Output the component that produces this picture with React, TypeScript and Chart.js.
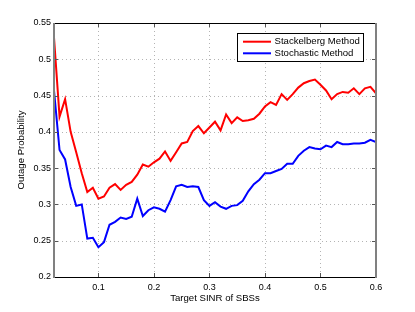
import React, { useEffect, useRef } from 'react';
import { Chart, registerables } from 'chart.js';

Chart.register(...registerables);

const sinr = [
  0.02, 0.03, 0.04, 0.05, 0.06, 0.07, 0.08, 0.09, 0.10, 0.11,
  0.12, 0.13, 0.14, 0.15, 0.16, 0.17, 0.18, 0.19, 0.20, 0.21,
  0.22, 0.23, 0.24, 0.25, 0.26, 0.27, 0.28, 0.29, 0.30, 0.31,
  0.32, 0.33, 0.34, 0.35, 0.36, 0.37, 0.38, 0.39, 0.40, 0.41,
  0.42, 0.43, 0.44, 0.45, 0.46, 0.47, 0.48, 0.49, 0.50, 0.51,
  0.52, 0.53, 0.54, 0.55, 0.56, 0.57, 0.58, 0.59, 0.60,
];

const stackelberg = [
  0.530, 0.421, 0.445, 0.400, 0.372, 0.343, 0.317, 0.323, 0.308, 0.311,
  0.323, 0.328, 0.320, 0.327, 0.331, 0.341, 0.355, 0.352, 0.358, 0.363,
  0.373, 0.360, 0.372, 0.384, 0.386, 0.401, 0.408, 0.398, 0.406, 0.414,
  0.402, 0.424, 0.412, 0.420, 0.415, 0.416, 0.418, 0.425, 0.435, 0.441,
  0.437, 0.452, 0.444, 0.452, 0.461, 0.467, 0.470, 0.472, 0.465, 0.457,
  0.445, 0.452, 0.455, 0.454, 0.460, 0.452, 0.460, 0.462, 0.453,
];

const stochastic = [
  0.457, 0.375, 0.362, 0.324, 0.298, 0.300, 0.253, 0.254, 0.241, 0.248,
  0.272, 0.276, 0.282, 0.280, 0.283, 0.308, 0.284, 0.292, 0.296, 0.294,
  0.290, 0.306, 0.325, 0.327, 0.324, 0.325, 0.324, 0.306, 0.298, 0.303,
  0.297, 0.294, 0.298, 0.299, 0.305, 0.318, 0.328, 0.334, 0.343, 0.343,
  0.346, 0.349, 0.356, 0.356, 0.367, 0.374, 0.379, 0.377, 0.376, 0.381,
  0.379, 0.386, 0.383, 0.383, 0.384, 0.384, 0.385, 0.389, 0.386,
];

const seriesLabels = ['Stackelberg Method', 'Stochastic Method'];
const xTicks = [0.1, 0.2, 0.3, 0.4, 0.5, 0.6];
const xTickLabels = ['0.1', '0.2', '0.3', '0.4', '0.5', '0.6'];
const yTicks = [0.2, 0.25, 0.3, 0.35, 0.4, 0.45, 0.5, 0.55];
const yTickLabels = ['0.2', '0.25', '0.3', '0.35', '0.4', '0.45', '0.5', '0.55'];

const FONT = '"Liberation Sans", Arial, Helvetica, sans-serif';

const framePlugin = {
  id: 'matlabFrame',
  beforeDatasetsDraw(chart: any) {
    const { ctx, chartArea } = chart;
    const xs = chart.scales.x;
    const ys = chart.scales.y;
    ctx.save();
    ctx.strokeStyle = '#b4b4b4';
    ctx.lineWidth = 1;
    ctx.setLineDash([1, 3]);
    xTicks.forEach((v) => {
      const px = Math.round(xs.getPixelForValue(v)) + 0.5;
      ctx.beginPath();
      ctx.moveTo(px, chartArea.top);
      ctx.lineTo(px, chartArea.bottom);
      ctx.stroke();
    });
    yTicks.forEach((v) => {
      const py = Math.round(ys.getPixelForValue(v)) + 0.5;
      ctx.beginPath();
      ctx.moveTo(chartArea.left, py);
      ctx.lineTo(chartArea.right, py);
      ctx.stroke();
    });
    ctx.restore();
  },
  afterDatasetsDraw(chart: any) {
    const { ctx, chartArea } = chart;
    const { left, right, top, bottom } = chartArea;
    const xs = chart.scales.x;
    const ys = chart.scales.y;
    ctx.save();
    ctx.setLineDash([]);
    // tick marks
    ctx.strokeStyle = '#555555';
    ctx.lineWidth = 1;
    const tl = 4;
    xTicks.forEach((v) => {
      const px = Math.round(xs.getPixelForValue(v)) + 0.5;
      ctx.beginPath();
      ctx.moveTo(px, bottom);
      ctx.lineTo(px, bottom - tl);
      ctx.moveTo(px, top);
      ctx.lineTo(px, top + tl);
      ctx.stroke();
    });
    yTicks.forEach((v) => {
      const py = Math.round(ys.getPixelForValue(v)) + 0.5;
      ctx.beginPath();
      ctx.moveTo(left, py);
      ctx.lineTo(left + tl, py);
      ctx.moveTo(right, py);
      ctx.lineTo(right - tl, py);
      ctx.stroke();
    });
    // box
    ctx.strokeStyle = '#000000';
    ctx.lineWidth = 1;
    ctx.beginPath();
    ctx.moveTo(left, Math.round(top) + 0.5);
    ctx.lineTo(right, Math.round(top) + 0.5);
    ctx.moveTo(left, Math.round(bottom) + 0.5);
    ctx.lineTo(right, Math.round(bottom) + 0.5);
    ctx.stroke();
    ctx.strokeStyle = '#808080';
    ctx.lineWidth = 2;
    ctx.beginPath();
    ctx.moveTo(Math.round(left), top);
    ctx.lineTo(Math.round(left), bottom + 1);
    ctx.moveTo(Math.round(right), top);
    ctx.lineTo(Math.round(right), bottom + 1);
    ctx.stroke();

    // legend
    const bx = 237.5, by = 33.5, bw = 126, bh = 28;
    ctx.fillStyle = '#ffffff';
    ctx.fillRect(bx, by, bw, bh);
    ctx.strokeStyle = '#000000';
    ctx.lineWidth = 1;
    ctx.strokeRect(bx, by, bw, bh);
    const rows = [41.7, 53.3];
    chart.data.datasets.forEach((ds: any, i: number) => {
      const y = rows[i];
      ctx.strokeStyle = ds.borderColor;
      ctx.lineWidth = 2;
      ctx.beginPath();
      ctx.moveTo(243, y);
      ctx.lineTo(271, y);
      ctx.stroke();
      ctx.fillStyle = '#000000';
      ctx.font = `9.6px ${FONT}`;
      ctx.textAlign = 'left';
      ctx.textBaseline = 'middle';
      ctx.fillText(ds.label, 274.5, y);
    });
    ctx.restore();
  },
};

export default function App() {
  const ref = useRef<HTMLCanvasElement | null>(null);

  useEffect(() => {
    if (!ref.current) return;
    const chart = new Chart(ref.current, {
      type: 'line',
      data: {
        datasets: [
          {
            label: seriesLabels[0],
            data: sinr.map((x, i) => ({ x, y: stackelberg[i] })),
            borderColor: '#ff0000',
            borderWidth: 2,
            pointRadius: 0,
            fill: false,
            tension: 0,
          },
          {
            label: seriesLabels[1],
            data: sinr.map((x, i) => ({ x, y: stochastic[i] })),
            borderColor: '#0000ff',
            borderWidth: 2,
            pointRadius: 0,
            fill: false,
            tension: 0,
          },
        ],
      },
      options: {
        responsive: false,
        animation: false,
        devicePixelRatio: 1,
        layout: { padding: { left: 11, top: 23, right: 39, bottom: 0 } },
        plugins: {
          legend: { display: false },
          tooltip: { enabled: false },
        },
        scales: {
          x: {
            type: 'linear',
            min: 0.02,
            max: 0.6,
            afterBuildTicks: (s: any) => {
              s.ticks = xTicks.map((v) => ({ value: v }));
            },
            afterFit: (s: any) => {
              s.height = 35;
            },
            ticks: {
              autoSkip: false,
              maxRotation: 0,
              padding: 5,
              color: '#000000',
              font: { family: FONT, size: 9 },
              callback: (_v: any, i: number) => xTickLabels[i],
            },
            grid: { display: false, drawTicks: false },
            border: { display: false },
            title: {
              display: true,
              text: 'Target SINR of SBSs',
              color: '#000000',
              font: { family: FONT, size: 9.6 },
              padding: { top: 0, bottom: 8 },
            },
          },
          y: {
            type: 'linear',
            min: 0.2,
            max: 0.55,
            afterBuildTicks: (s: any) => {
              s.ticks = yTicks.map((v) => ({ value: v }));
            },
            afterFit: (s: any) => {
              s.width = 43;
            },
            ticks: {
              autoSkip: false,
              padding: 3,
              color: '#000000',
              font: { family: FONT, size: 9 },
              callback: (_v: any, i: number) => yTickLabels[i],
            },
            grid: { display: false, drawTicks: false },
            border: { display: false },
            title: {
              display: true,
              text: 'Outage Probability',
              color: '#000000',
              font: { family: FONT, size: 9.6 },
              padding: { top: 5, bottom: 0 },
            },
          },
        },
      },
      plugins: [framePlugin],
    } as any);
    return () => chart.destroy();
  }, []);

  return (
    <div style={{ position: 'absolute', left: 0, top: 0, width: 415, height: 312, background: '#ffffff' }}>
      <canvas ref={ref} width={415} height={312} style={{ display: 'block' }} />
    </div>
  );
}
